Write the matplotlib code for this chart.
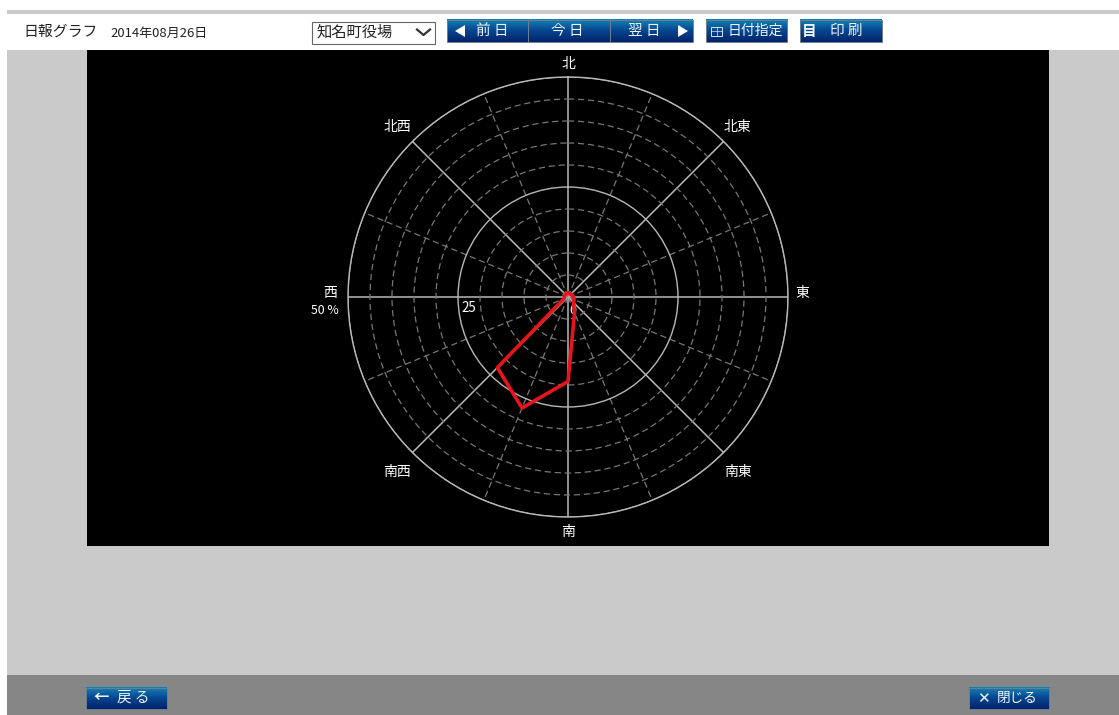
import numpy as np
import matplotlib
matplotlib.use("Agg")
import matplotlib.pyplot as plt
from matplotlib.colors import LinearSegmentedColormap
from matplotlib.patches import Polygon, Rectangle

plt.rcParams['font.family'] = ['Noto Sans CJK JP', 'DejaVu Sans']

# ---- data ----
directions = ["北", "北東", "東", "南東", "南", "南西", "西", "北西"]
wind_share = [0.9, 0.8, 1.0, 1.0, 1.3, 1.5, 1.8, 3.9,
              19.2, 27.3, 22.7, 1.0, 0.8, 0.9, 0.8, 0.9]
radial_ticks = [5, 10, 15, 20, 25, 30, 35, 40, 45, 50]
solid_rings = [25, 50]
r_labels = ["0", "25", "50 %"]

W, H = 1119, 715
CX, CY, R = 568, 297, 220

fig = plt.figure(figsize=(W / 100, H / 100), dpi=100, facecolor="#ffffff")

# page chrome in pixel coordinates
page = fig.add_axes([0, 0, 1, 1])
page.set_xlim(0, W)
page.set_ylim(H, 0)
page.axis("off")

page.add_patch(Rectangle((7, 10), W - 7, H - 10, fc="#cacaca", ec="none"))
page.add_patch(Rectangle((7, 14), W - 7, 36, fc="#ffffff", ec="none"))
page.add_patch(Rectangle((7, 675), W - 7, 40, fc="#868686", ec="none"))
page.add_patch(Rectangle((87, 50), 962, 496, fc="#000000", ec="none"))

page.text(23, 32, "日報グラフ", fontsize=10.7, color="#222222", va="center")
page.text(110, 33, "2014年08月26日", fontsize=9.4, color="#222222", va="center")

# station select
page.add_patch(Rectangle((311.5, 21.5), 123, 22, fc="#ffffff", ec="#666666", lw=0.8))
page.text(316, 32, "知名町役場", fontsize=11, color="#222222", va="center")
page.plot([417, 423.5, 430], [29.5, 35, 29.5], color="#333333", lw=1.6)

btn_cmap = LinearSegmentedColormap.from_list("btn", ["#0f84b8", "#07458f", "#03246c"])
grad = np.linspace(0, 1, 32).reshape(-1, 1)


def button(x0, x1, y0, y1):
    page.imshow(grad, cmap=btn_cmap, extent=(x0, x1, y1, y0), aspect="auto", zorder=2)
    page.add_patch(Rectangle((x0, y0), x1 - x0, y1 - y0, fc="none", ec="#6f7f90", lw=0.7, zorder=3))


def label(x, y, s, size=10.5, weight="normal"):
    page.text(x, y, s, fontsize=size, color="#f0f5fa", weight=weight,
              ha="center", va="center", zorder=4)


button(446.5, 528, 19.5, 42)
button(528, 610, 19.5, 42)
button(610, 693, 19.5, 42)
button(705.5, 787, 19.5, 42)
button(799.5, 881.5, 19.5, 42)
button(85.5, 166.5, 687.5, 709)
button(968.5, 1049, 687.5, 709)

page.add_patch(Polygon([[455, 31], [465, 25], [465, 37]], fc="#ffffff", zorder=4))
page.add_patch(Polygon([[688, 31], [678, 25], [678, 37]], fc="#ffffff", zorder=4))
label(492.5, 31, "前 日")
label(567.5, 31, "今 日")
label(644, 31, "翌 日")
label(755, 31, "日付指定", size=10)
label(809, 31, "目", size=10.5, weight="bold")
label(846.5, 31, "印 刷")
page.add_patch(Rectangle((711, 26.5), 11, 9, fc="none", ec="#d8e2ee", lw=0.7, zorder=4))
page.plot([711, 722], [31, 31], color="#d8e2ee", lw=0.5, zorder=4)
page.plot([716.5, 716.5], [26.5, 35.5], color="#d8e2ee", lw=0.5, zorder=4)

label(101, 697, "←", size=11, weight="bold")
label(133.5, 697.5, "戻 る")
label(983, 698, "✕", size=11, weight="bold")
label(1017, 697.5, "閉じる", size=9.8)

# rose chart, placed so its rim sits on the reference circle
polar = fig.add_axes([(CX - R) / W, 1 - (CY + R) / H, 2 * R / W, 2 * R / H],
                     projection="polar", facecolor="none")
polar.set_theta_zero_location("N")
polar.set_theta_direction(-1)
polar.set_ylim(0, radial_ticks[-1])

angles = np.arange(16) * 2 * np.pi / 16
polar.set_xticks(angles)
polar.set_yticks(radial_ticks)
polar.set_xticklabels([])
polar.set_yticklabels([])
polar.tick_params(length=0)
polar.spines["polar"].set_color("#b8b8b8")
polar.spines["polar"].set_linewidth(1.0)

polar.grid(True, color="#777777", lw=0.9, ls=(0, (5, 3)))
for i, line in enumerate(polar.get_xgridlines()):
    if i % 2 == 0:
        line.set_linestyle("-")
        line.set_color("#b8b8b8")
        line.set_linewidth(1.1)
for tick, line in zip(radial_ticks, polar.get_ygridlines()):
    if tick in solid_rings:
        line.set_linestyle("-")
        line.set_color("#b8b8b8")
        line.set_linewidth(1.0)

closed_theta = np.append(angles, angles[0])
closed_share = np.append(wind_share, wind_share[0])
polar.plot(closed_theta, closed_share, color="#e8141c", lw=2.6, zorder=5)
polar.set_rlim(0, radial_ticks[-1])

# direction labels, offset from the rim in pixels
label_offsets = [(0, 13), (14, 14), (14, 4), (14, -19), (0, -15), (-15, -19), (-18, 4), (-15, 14)]
for name, off, a in zip(directions, label_offsets, angles[::2]):
    polar.annotate(name, (a, radial_ticks[-1]), xytext=off, textcoords="offset pixels",
                   color="#ffffff", fontsize=10, ha="center", va="center",
                   annotation_clip=False)

page.text(573, 311, r_labels[0], color="#ffffff", fontsize=9, ha="center", va="center", zorder=5)
page.text(469, 308, r_labels[1], color="#ffffff", fontsize=9.6, ha="center", va="center", zorder=5)
page.text(325, 311, r_labels[2], color="#ffffff", fontsize=8.8, ha="center", va="center", zorder=5)

fig.savefig("out.png", dpi=100)
